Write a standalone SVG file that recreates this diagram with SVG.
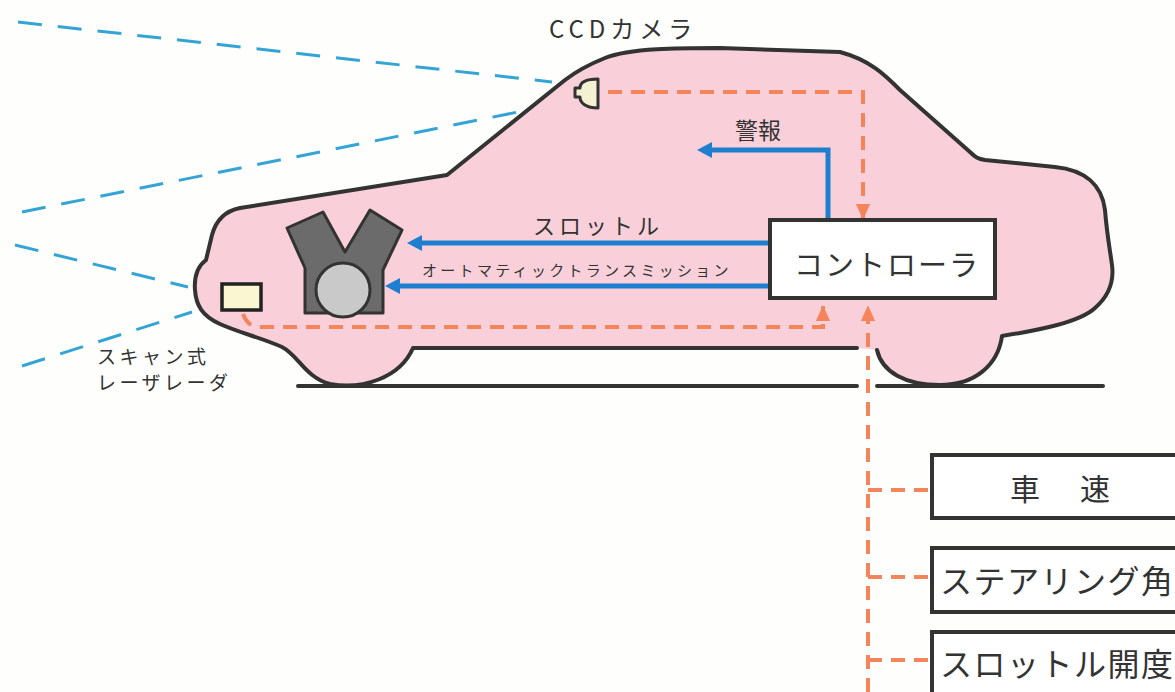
<svg xmlns="http://www.w3.org/2000/svg" width="1175" height="692" viewBox="0 0 1175 692">
  <style>
    .txt { font-family: "Noto Sans CJK JP", "Noto Sans", sans-serif; fill: #333; }
    .ray { fill: none; stroke: #34a4d4; stroke-width: 3; stroke-dasharray: 24 16; }
    .sig { fill: none; stroke: #f4845a; stroke-width: 4; stroke-dasharray: 14 9; }
    .ctl { fill: none; stroke: #1f7fcf; stroke-width: 5; }
    .box { fill: #ffffff; stroke: #333; stroke-width: 4; }
    .line { fill: none; stroke: #333; stroke-width: 4; stroke-linejoin: round; stroke-linecap: round; }
  </style>
  <defs>
    <marker id="blueHead" markerWidth="3" markerHeight="3.2" refX="0" refY="1.6" orient="auto" markerUnits="strokeWidth" viewBox="0 0 3 3.2">
      <path d="M3 1.6 L0 0 L0 3.2 Z" fill="#1f7fcf"/>
    </marker>
    <marker id="orangeHead" markerWidth="4" markerHeight="4" refX="3.8" refY="2" orient="auto" markerUnits="strokeWidth" viewBox="0 0 4 4">
      <path d="M4 2 L0 0.2 L0 3.8 Z" fill="#f4845a"/>
    </marker>
  </defs>

  <rect width="1175" height="692" fill="#fefefc"/>

  <!-- sensing rays -->
  <g id="rays">
    <line class="ray" x1="18" y1="22" x2="552" y2="82"/>
    <line class="ray" x1="22" y1="212" x2="518" y2="112"/>
    <line class="ray" x1="15" y1="245" x2="188" y2="287"/>
    <line class="ray" x1="22" y1="366" x2="192" y2="312"/>
  </g>

  <!-- car body -->
  <g id="car">
    <path d="M 877 350 C 882 372, 905 385, 940 385 C 975 385, 998 365, 1002 336 C 1040 330, 1080 322, 1095 308 C 1110 295, 1114 280, 1112 265 C 1110 250, 1107 235, 1105 210 C 1102 185, 1085 170, 1055 167 L 985 160 C 978 159, 975 157, 970 152 L 900 90 C 885 75, 870 60, 840 52 L 720 48 C 680 48, 630 48, 605 58 C 590 64, 578 70, 565 80 L 447 175 L 240 208 C 225 211, 216 220, 212 235 L 206 260 C 198 266, 194 277, 195 290 C 196 305, 202 316, 220 324 C 240 333, 262 338, 282 347 C 298 355, 306 378, 330 384 C 362 390, 400 378, 413 348 L 857 348" fill="#f9d0da"/>
    <path class="line" d="M 877 350 C 882 372, 905 385, 940 385 C 975 385, 998 365, 1002 336 C 1040 330, 1080 322, 1095 308 C 1110 295, 1114 280, 1112 265 C 1110 250, 1107 235, 1105 210 C 1102 185, 1085 170, 1055 167 L 985 160 C 978 159, 975 157, 970 152 L 900 90 C 885 75, 870 60, 840 52 L 720 48 C 680 48, 630 48, 605 58 C 590 64, 578 70, 565 80 L 447 175 L 240 208 C 225 211, 216 220, 212 235 L 206 260 C 198 266, 194 277, 195 290 C 196 305, 202 316, 220 324 C 240 333, 262 338, 282 347 C 298 355, 306 378, 330 384 C 362 390, 400 378, 413 348 L 857 348"/>
  </g>

  <!-- ground -->
  <g id="ground">
    <line class="line" x1="298" y1="386" x2="857" y2="386" stroke-linecap="butt"/>
    <line class="line" x1="877" y1="386" x2="1103" y2="386" stroke-linecap="butt"/>
  </g>

  <!-- engine -->
  <g id="engine">
    <path d="M 287 228 L 323 212 L 345 252 L 370 210 L 402 230 L 383 270 L 383 313 L 305 313 L 305 268 Z" fill="#6b6b6b" stroke="#333" stroke-width="3" stroke-linejoin="round"/>
    <circle cx="343" cy="290" r="27" fill="#c9c9c9" stroke="#333" stroke-width="3"/>
  </g>

  <!-- laser radar unit -->
  <g id="laser">
    <rect x="222" y="284" width="39" height="26" fill="#fbf6d2" stroke="#222" stroke-width="3.5"/>
  </g>

  <!-- CCD camera -->
  <g id="camera">
    <path d="M 598 79 L 598 108 C 586 108, 580 103, 580 97 L 575 97 L 575 88 L 580 88 C 580 82, 586 79, 598 79 Z" fill="#f4f0d2" stroke="#333" stroke-width="3" stroke-linejoin="round"/>
  </g>

  <!-- connectors -->
  <g id="connectors">
    <!-- control outputs -->
    <path class="ctl" d="M 828 220 L 828 150 L 712 150" marker-end="url(#blueHead)"/>
    <path class="ctl" d="M 770 243 L 422 243" marker-end="url(#blueHead)"/>
    <path class="ctl" d="M 770 286 L 400 286" marker-end="url(#blueHead)"/>
    <!-- sensor inputs -->
    <path class="sig" d="M 608 92 L 863 92 L 863 219" marker-end="url(#orangeHead)"/>
    <path class="sig" d="M 243 314 C 246 322, 250 327, 262 327 L 823 327 L 823 306" marker-end="url(#orangeHead)"/>
    <path class="sig" d="M 868 692 L 868 306" marker-end="url(#orangeHead)"/>
    <line class="sig" x1="868" y1="490" x2="932" y2="490"/>
    <line class="sig" x1="868" y1="577" x2="932" y2="577"/>
    <line class="sig" x1="868" y1="660" x2="932" y2="660"/>
  </g>

  <!-- controller -->
  <g id="controller">
    <rect class="box" x="770" y="220" width="225" height="78"/>
    <text class="txt" x="887" y="276" font-size="29" letter-spacing="2" text-anchor="middle">コントローラ</text>
  </g>

  <!-- input signals -->
  <g id="speed">
    <rect class="box" x="932" y="455" width="260" height="63"/>
    <text class="txt" x="1010" y="500" font-size="30" letter-spacing="5">車　速</text>
  </g>
  <g id="steering">
    <rect class="box" x="932" y="548" width="260" height="64"/>
    <text class="txt" x="940" y="593" font-size="32" letter-spacing="1.5">ステアリング角</text>
  </g>
  <g id="throttle-opening">
    <rect class="box" x="932" y="632" width="260" height="80"/>
    <text class="txt" x="940" y="676" font-size="32" letter-spacing="1.5">スロットル開度</text>
  </g>

  <!-- labels -->
  <g id="labels">
    <text class="txt" x="549" y="38" font-size="24" letter-spacing="5">CCDカメラ</text>
    <text class="txt" x="758" y="139" font-size="23" text-anchor="middle">警報</text>
    <text class="txt" x="598" y="234" font-size="22" letter-spacing="4" text-anchor="middle">スロットル</text>
    <text class="txt" x="422" y="276" font-size="15" letter-spacing="3.3">オートマティックトランスミッション</text>
    <text class="txt" x="97" y="364" font-size="19" letter-spacing="3.5">スキャン式</text>
    <text class="txt" x="97" y="390" font-size="19" letter-spacing="3.5">レーザレーダ</text>
  </g>
</svg>
